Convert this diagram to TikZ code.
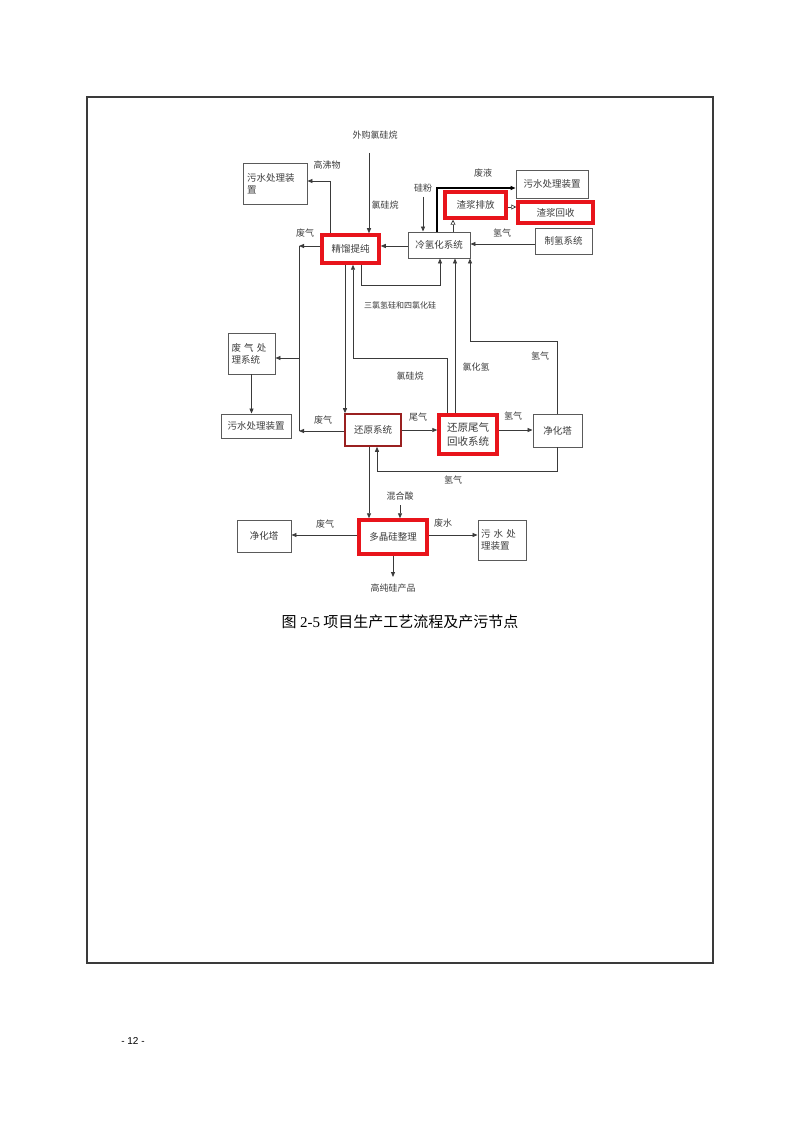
\documentclass[tikz,border=0pt]{standalone}
\usepackage{fontspec}
\setmainfont{Noto Sans CJK SC}
\newfontfamily\serifl{Liberation Serif}
\newfontfamily\pagef{Liberation Sans}
\usetikzlibrary{arrows.meta}
\definecolor{ln}{HTML}{3A3A3A}
\definecolor{bx}{HTML}{5A5A5A}
\definecolor{tx}{HTML}{3C3C3C}
\definecolor{rd}{HTML}{E8141B}
\definecolor{drd}{HTML}{9A2020}
\tikzset{
  box/.style={draw=bx, line width=0.9pt, inner sep=1pt, text=tx, font=\fontsize{9.5}{12}\selectfont},
  redbox/.style={draw=rd, line width=3.5pt, inner sep=1pt, text=tx, font=\fontsize{9.5}{12}\selectfont},
  lbl/.style={text=tx, inner sep=0pt, font=\fontsize{9}{11}\selectfont},
  arr/.style={draw=ln, line width=0.8pt, -{Triangle[length=5pt,width=4pt]}},
  oarr/.style={draw=ln, line width=0.7pt, -{Triangle[open,length=5pt,width=5pt]}},
  ln/.style={draw=ln, line width=0.8pt},
}
\begin{document}
\begin{tikzpicture}[x=1pt,y=-1pt]
\useasboundingbox (0,0) rectangle (800,1131);
\fill[white] (0,0) rectangle (800,1131);
% outer frame
\draw[ln, line width=1.3pt] (87,97) rectangle (713,963);
% nodes
\node[box, minimum width=64pt, minimum height=41pt, align=left, text width=56pt] (wsTop) at (275,183.5) {污水处理装\\置};
\node[redbox, minimum width=57pt, minimum height=28pt] (jl) at (350.5,249) {精馏提纯};
\node[box, minimum width=62pt, minimum height=26pt] (lqh) at (439,245) {冷氢化系统};
\node[box, minimum width=72pt, minimum height=28pt] (wsTR) at (552,184) {污水处理装置};
\node[redbox, minimum width=61pt, minimum height=26pt] (zjpf) at (475.5,205) {渣浆排放};
\node[redbox, minimum width=75pt, minimum height=21pt] (zjhs) at (555.5,212.5) {渣浆回收};
\node[box, minimum width=57pt, minimum height=26pt] (zqxt) at (563.5,241) {制氢系统};
\node[box, minimum width=47pt, minimum height=41pt, align=left, text width=40pt] (fqcl) at (251.5,353.5) {废 气 处\\理系统};
\node[box, minimum width=70pt, minimum height=24pt] (wsL) at (256,426) {污水处理装置};
\node[box, draw=drd, line width=1.6pt, minimum width=56pt, minimum height=32pt] (hy) at (373,430) {还原系统};
\node[redbox, minimum width=58pt, minimum height=39pt, align=left, font=\fontsize{10.5}{14}\selectfont] (hywq) at (468,434.5) {还原尾气\\回收系统};
\node[box, minimum width=49pt, minimum height=33pt] (jht) at (557.5,430.5) {净化塔};
\node[redbox, minimum width=68pt, minimum height=34pt] (djg) at (393,537) {多晶硅整理};
\node[box, minimum width=54pt, minimum height=32pt] (jhtL) at (264,536) {净化塔};
\node[box, minimum width=48pt, minimum height=40pt, align=left, text width=42pt] (wsB) at (502,540) {污 水 处\\理装置};
% text labels
\node[lbl] (wg) at (375,135) {外购氯硅烷};
\node[lbl] at (385,205) {氯硅烷};
\node[lbl] at (327,165) {高沸物};
\node[lbl] at (305,233) {废气};
\node[lbl] at (323,420) {废气};
\node[lbl, font=\fontsize{8}{10}\selectfont] at (400,305) {三氯氢硅和四氯化硅};
\node[lbl] at (410,376) {氯硅烷};
\node[lbl] at (476,367) {氯化氢};
\node[lbl] at (540,356) {氢气};
\node[lbl] at (423,188) {硅粉};
\node[lbl] at (483,173) {废液};
\node[lbl] at (502,233) {氢气};
\node[lbl] at (418,417) {尾气};
\node[lbl] at (513,416) {氢气};
\node[lbl] at (453,480) {氢气};
\node[lbl] (hhs) at (400,496) {混合酸};
\node[lbl] at (325,524) {废气};
\node[lbl] at (443,523) {废水};
\node[lbl] (cp) at (393,588) {高纯硅产品};
% coordinates
\coordinate (c1) at (369,153);
\coordinate (c2) at (330,181);
\coordinate (vt) at (299,246);
\coordinate (vm) at (299,358);
\coordinate (vb) at (299,431);
\coordinate (l1a) at (361,285);
\coordinate (l1b) at (440,285);
\coordinate (l2a) at (353,358);
\coordinate (l2b) at (447,358);
\coordinate (l3a) at (470,341);
\coordinate (l3b) at (557,341);
\coordinate (l4a) at (377,471);
\coordinate (l4b) at (557,471);
\coordinate (sf) at (423,197);
\coordinate (fy) at (437,188);
\coordinate (hhsb) at (400,505);
\coordinate (cpt) at (393,577);
% connectors
\draw[arr] (c1) -- (c1 |- jl.north);
\draw[arr] (jl.north -| c2) -- (c2) -- (c2 -| wsTop.east);
\draw[arr] (jl.west |- vt) -- (vt);
\draw[ln] (vt) -- (vb);
\draw[arr] (vm) -- (vm -| fqcl.east);
\draw[arr] (hy.west |- vb) -- (vb);
\draw[arr] (fqcl.south) -- (fqcl.south |- wsL.north);
\draw[arr] (lqh.west |- vt) -- (jl.east |- vt);
\draw[arr] (jl.south -| 345,0) -- (hy.north -| 345,0);
\draw[arr] (jl.south -| l1a) -- (l1a) -- (l1b) -- (lqh.south -| l1b);
\draw[arr] (hywq.north -| l2b) -- (l2b) -- (l2a) -- (jl.south -| l2a);
\draw[arr] (hywq.north -| 455,0) -- (lqh.south -| 455,0);
\draw[arr] (jht.north -| l3b) -- (l3b) -- (l3a) -- (lqh.south -| l3a);
\draw[arr] (sf) -- (lqh.north -| sf);
\draw[ln, line width=1.8pt, draw=black, -{Triangle[length=5pt,width=4pt]}] (lqh.north -| fy) -- (fy) -- (fy -| wsTR.west);
\draw[oarr] (lqh.north -| 453,0) -- (zjpf.south -| 453,0);
\draw[oarr] (zjpf.east |- 0,207) -- (zjhs.west |- 0,207);
\draw[arr] (zqxt.west |- 0,244) -- (lqh.east |- 0,244);
\draw[arr] (hy.east) -- (hywq.west |- hy.east);
\draw[arr] (hywq.east |- hy.east) -- (jht.west |- hy.east);
\draw[arr] (jht.south -| l4b) -- (l4b) -- (l4a) -- (hy.south -| l4a);
\draw[arr] (hy.south -| 369,0) -- (djg.north -| 369,0);
\draw[arr] (hhsb) -- (djg.north -| hhsb);
\draw[arr] (djg.west |- 0,535) -- (jhtL.east |- 0,535);
\draw[arr] (djg.east |- 0,535) -- (wsB.west |- 0,535);
\draw[arr] (djg.south) -- (cpt);
% caption
\node[text=black, inner sep=0pt, font=\fontsize{15}{18}\selectfont] (cap) at (400,622) {图 {\serifl 2-5} 项目生产工艺流程及产污节点};
\node[text=black, inner sep=0pt, font=\pagef\fontsize{10}{12}\selectfont] (pg) at (133,1041) {- 12 -};
\end{tikzpicture}
\end{document}
